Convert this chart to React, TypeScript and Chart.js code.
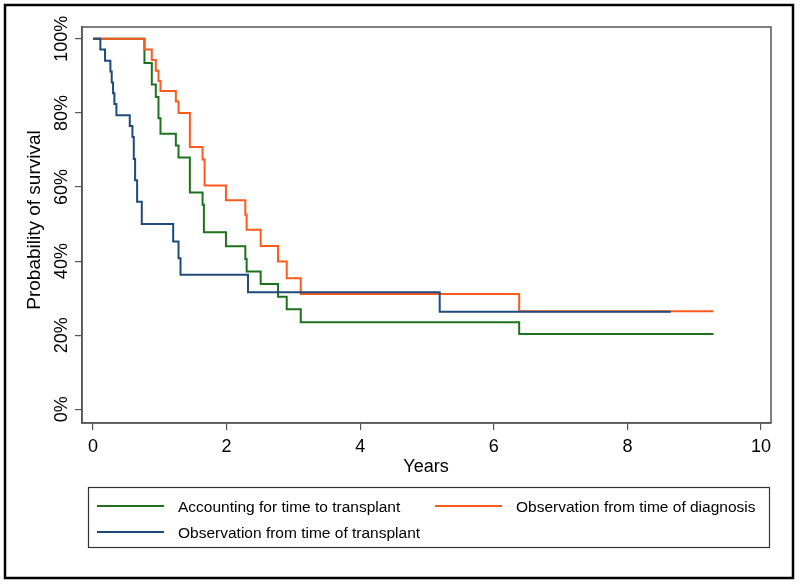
import React, { useEffect, useRef } from "react";
import { Chart, registerables } from "chart.js";

Chart.register(...registerables);

// ---- Data (Kaplan-Meier step points: time in years, survival in %) ----
const seriesLabels = [
  "Accounting for time to transplant",
  "Observation from time of diagnosis",
  "Observation from time of transplant",
];

const accountingTimes = [0, 0.77, 0.88, 0.94, 0.98, 1.01, 1.24, 1.28, 1.45, 1.64, 1.66, 1.99, 2.28, 2.3, 2.51, 2.77, 2.9, 3.11, 6.38, 9.29];
const accountingSurv = [100, 93.5, 87.7, 84.3, 78.6, 74.4, 71.2, 68.0, 58.5, 55.2, 47.8, 44.0, 40.6, 37.2, 33.8, 30.4, 27.0, 23.5, 20.3, 20.3];

const diagnosisTimes = [0, 0.77, 0.88, 0.94, 0.98, 1.01, 1.24, 1.28, 1.45, 1.64, 1.67, 1.99, 2.28, 2.3, 2.51, 2.77, 2.9, 3.11, 6.38, 9.29];
const diagnosisSurv = [100, 97.1, 94.3, 91.4, 88.6, 85.9, 83.1, 80.0, 70.8, 67.4, 60.4, 56.4, 52.5, 48.5, 44.1, 39.9, 35.4, 31.1, 26.5, 26.5];

const transplantTimes = [0, 0.11, 0.18, 0.26, 0.28, 0.3, 0.32, 0.35, 0.55, 0.59, 0.61, 0.63, 0.66, 0.73, 1.2, 1.28, 1.31, 2.32, 5.19, 8.65];
const transplantSurv = [100, 97.1, 94.1, 91.2, 88.2, 85.3, 82.4, 79.4, 76.5, 73.5, 67.6, 61.8, 56.0, 50.0, 45.3, 40.8, 36.3, 31.6, 26.3, 26.3];

const xTickValues = [0, 2, 4, 6, 8, 10];
const yTickValues = [0, 20, 40, 60, 80, 100];
const yTickLabels = ["0%", "20%", "40%", "60%", "80%", "100%"];
const xTitle = "Years";
const yTitle = "Probability of survival";

const seriesColors = ["#1d721d", "#ff5a1e", "#1f4a7c"];

const FONT = "'Liberation Sans', Arial, Helvetica, sans-serif";

const toPoints = (t: number[], s: number[]) => t.map((x, i) => ({ x, y: s[i] }));

const decorPlugin = {
  id: "decor",
  afterDraw(chart: any) {
    const { ctx, chartArea, scales } = chart;
    const ys = scales.y;
    ctx.save();
    // outer border
    ctx.strokeStyle = "#000";
    ctx.lineWidth = 2.5;
    ctx.strokeRect(5, 5, 788, 573);
    // plot frame
    ctx.strokeStyle = "#555";
    ctx.lineWidth = 1.5;
    ctx.strokeRect(chartArea.left, chartArea.top, chartArea.right - chartArea.left, chartArea.bottom - chartArea.top);

    // y tick labels (rotated)
    ctx.fillStyle = "#000";
    ctx.font = `18px ${FONT}`;
    ctx.textAlign = "center";
    ctx.textBaseline = "alphabetic";
    yTickValues.forEach((v, i) => {
      const y = ys.getPixelForValue(v);
      ctx.save();
      ctx.translate(66.5, y);
      ctx.rotate(-Math.PI / 2);
      ctx.fillText(yTickLabels[i], 0, 0);
      ctx.restore();
    });

    // y title
    ctx.save();
    ctx.font = `19px ${FONT}`;
    ctx.translate(40, 220);
    ctx.rotate(-Math.PI / 2);
    ctx.fillText(yTitle, 0, 0);
    ctx.restore();

    // x title
    ctx.font = `18px ${FONT}`;
    ctx.fillText(xTitle, 426, 471.5);

    // legend
    ctx.strokeStyle = "#333";
    ctx.lineWidth = 1.2;
    ctx.strokeRect(88.5, 487.5, 681, 60);
    const items = [
      { c: seriesColors[0], x: 97, y: 506, label: seriesLabels[0] },
      { c: seriesColors[1], x: 435, y: 506, label: seriesLabels[1] },
      { c: seriesColors[2], x: 97, y: 532, label: seriesLabels[2] },
    ];
    ctx.font = `15.5px ${FONT}`;
    ctx.textAlign = "left";
    items.forEach((it) => {
      ctx.strokeStyle = it.c;
      ctx.lineWidth = 2;
      ctx.beginPath();
      ctx.moveTo(it.x, it.y);
      ctx.lineTo(it.x + 67, it.y);
      ctx.stroke();
      ctx.fillStyle = "#000";
      ctx.fillText(it.label, it.x + 81, it.y + 5.5);
    });
    ctx.restore();
  },
};

export default function App() {
  const ref = useRef<HTMLCanvasElement | null>(null);
  useEffect(() => {
    document.body.style.margin = "0";
    if (!ref.current) return;
    const chart = new Chart(ref.current, {
      type: "line",
      data: {
        datasets: [
          {
            label: seriesLabels[0],
            data: toPoints(accountingTimes, accountingSurv),
            borderColor: seriesColors[0],
            order: 3,
          },
          {
            label: seriesLabels[1],
            data: toPoints(diagnosisTimes, diagnosisSurv),
            borderColor: seriesColors[1],
            order: 2,
          },
          {
            label: seriesLabels[2],
            data: toPoints(transplantTimes, transplantSurv),
            borderColor: seriesColors[2],
            order: 1,
          },
        ].map((d) => ({ ...d, stepped: true, borderWidth: 2, pointRadius: 0, fill: false, tension: 0 })),
      },
      options: {
        responsive: false,
        animation: false,
        devicePixelRatio: 1,
        layout: { padding: { left: 0, top: 27, right: 29, bottom: 103 } },
        plugins: { legend: { display: false }, tooltip: { enabled: false } },
        scales: {
          x: {
            type: "linear",
            min: -0.165,
            max: 10.15,
            afterBuildTicks: (s: any) => {
              s.ticks = xTickValues.map((v) => ({ value: v }));
            },
            afterFit: (s: any) => {
              s.height = 60;
            },
            grid: { drawOnChartArea: false, drawTicks: true, tickLength: 7, color: "#555", lineWidth: 1.2 },
            border: { display: true, color: "#555", width: 1.5 },
            ticks: {
              color: "#000",
              font: { family: FONT, size: 18 },
              padding: 6,
              maxRotation: 0,
              minRotation: 0,
              callback: (v: any) => String(v),
            },
          },
          y: {
            type: "linear",
            min: -3.7,
            max: 103.2,
            afterBuildTicks: (s: any) => {
              s.ticks = yTickValues.map((v) => ({ value: v }));
            },
            afterFit: (s: any) => {
              s.width = 82;
            },
            grid: { drawOnChartArea: false, drawTicks: true, tickLength: 7, color: "#555", lineWidth: 1.2 },
            border: { display: true, color: "#555", width: 1.5 },
            ticks: { display: false },
          },
        },
      },
      plugins: [decorPlugin],
    });
    return () => chart.destroy();
  }, []);
  return <canvas ref={ref} width={800} height={586} style={{ display: "block" }} />;
}
